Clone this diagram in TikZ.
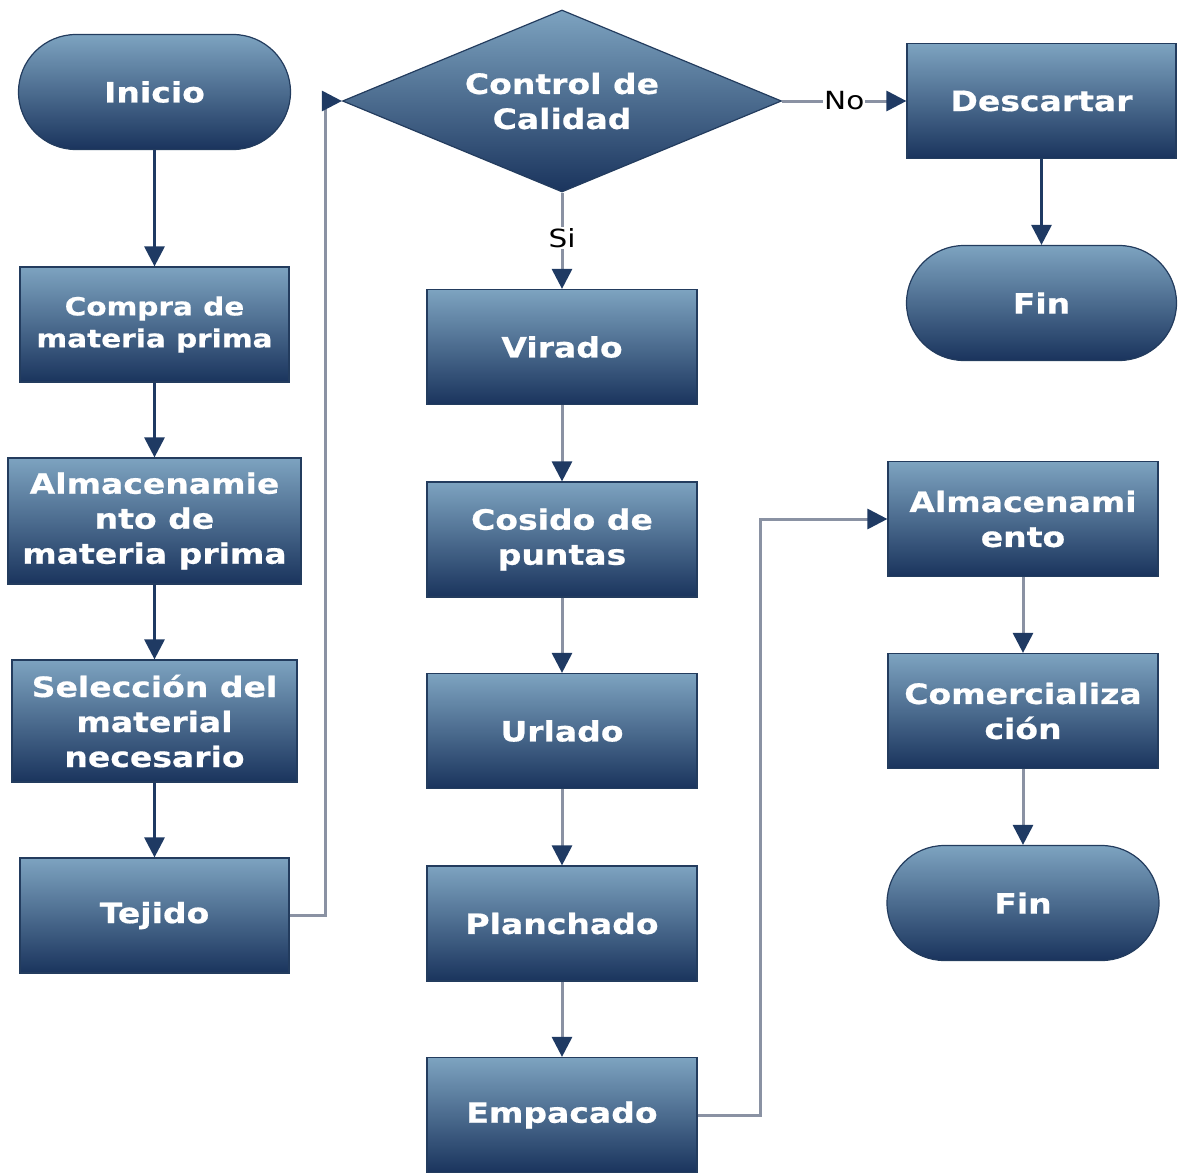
\documentclass[tikz,border=0pt]{standalone}
\usepackage{fontspec}
\newfontfamily\boxfont[FakeStretch=1.18, BoldFeatures={FakeBold=0.6}]{DejaVu Sans}
\usetikzlibrary{shapes.misc,shapes.geometric,arrows.meta}
\definecolor{boxtop}{HTML}{7DA3C0}
\definecolor{boxbot}{HTML}{1A345D}
\definecolor{boxline}{HTML}{233C5E}
\definecolor{navyline}{HTML}{1F3A63}
\definecolor{grayline}{HTML}{8A92A3}
\tikzset{
  boxshade/.style={top color=boxtop, bottom color=boxbot, draw=boxline,
    line width=1.2pt, text=white, align=center, inner sep=0pt,
    font=\boxfont\bfseries\fontsize{28}{35}\selectfont},
  process/.style={boxshade, rectangle, minimum width=270pt, minimum height=115pt},
  terminal/.style={boxshade, rounded rectangle, minimum width=272pt, minimum height=115pt},
  decision/.style={boxshade, diamond, aspect=2.4, minimum width=439pt, minimum height=182pt},
  flowtip/.style={-{Triangle[length=20pt,width=20pt,color=navyline]}},
  navyflow/.style={flowtip, draw=navyline, line width=3pt},
  grayflow/.style={flowtip, draw=grayline, line width=3pt},
  lbl/.style={fill=white, inner sep=1pt, text=black,
    font=\boxfont\fontsize{25}{30}\selectfont}
}
\begin{document}
\begin{tikzpicture}[x=1pt,y=1pt]
\useasboundingbox (0,0) rectangle (1178,-1173);

% left column
\node[terminal] (inicio) at (154.5,-92) {Inicio};
\node[process, minimum width=269pt, font=\boxfont\bfseries\fontsize{25}{32}\selectfont]
  (compra) at (154.5,-324.5) {Compra de\\materia prima};
\node[process, minimum width=293pt, minimum height=126pt] (almmp) at (154.5,-521)
  {Almacenamie\\nto de\\materia prima};
\node[process, minimum width=285pt, minimum height=122pt] (selec) at (154.5,-721)
  {Selección del\\material\\necesario};
\node[process, minimum width=269pt] (tejido) at (154.5,-915.5) {Tejido};

% middle column
\node[decision] (control) at (562,-101) {Control de\\Calidad};
\node[process] (virado) at (562,-347) {Virado};
\node[process] (cosido) at (562,-539.5) {Cosido de\\puntas};
\node[process] (urlado) at (562,-731) {Urlado};
\node[process] (planch) at (562,-923.5) {Planchado};
\node[process] (empac) at (562,-1115) {Empacado};

% right column
\node[process, minimum width=269pt] (descartar) at (1041.5,-101) {Descartar};
\node[terminal, minimum width=270pt] (fin1) at (1041.5,-303) {Fin};
\node[process] (alm) at (1023,-519) {Almacenami\\ento};
\node[process] (comer) at (1023,-711) {Comercializa\\ción};
\node[terminal] (fin2) at (1023,-903) {Fin};

% bends of the two return lines
\coordinate (loopL) at (325,-915.5);
\coordinate (loopR) at (760,-1115);

% connectors
\draw[navyflow] (inicio.south) -- (compra.north);
\draw[navyflow] (compra.south) -- (almmp.north);
\draw[navyflow] (almmp.south) -- (selec.north);
\draw[navyflow] (selec.south) -- (tejido.north);
\draw[grayflow] (tejido.east) -- (loopL) |- (control.west);
\draw[grayflow] (control.east) -- node[lbl] {No} (descartar.west);
\draw[grayflow] (control.south) -- node[lbl, pos=0.47] {Si} (virado.north);
\draw[navyflow] (descartar.south) -- (fin1.north);
\draw[grayflow] (virado.south) -- (cosido.north);
\draw[grayflow] (cosido.south) -- (urlado.north);
\draw[grayflow] (urlado.south) -- (planch.north);
\draw[grayflow] (planch.south) -- (empac.north);
\draw[grayflow] (empac.east) -- (loopR) |- (alm.west);
\draw[grayflow] (alm.south) -- (comer.north);
\draw[grayflow] (comer.south) -- (fin2.north);
\end{tikzpicture}
\end{document}
